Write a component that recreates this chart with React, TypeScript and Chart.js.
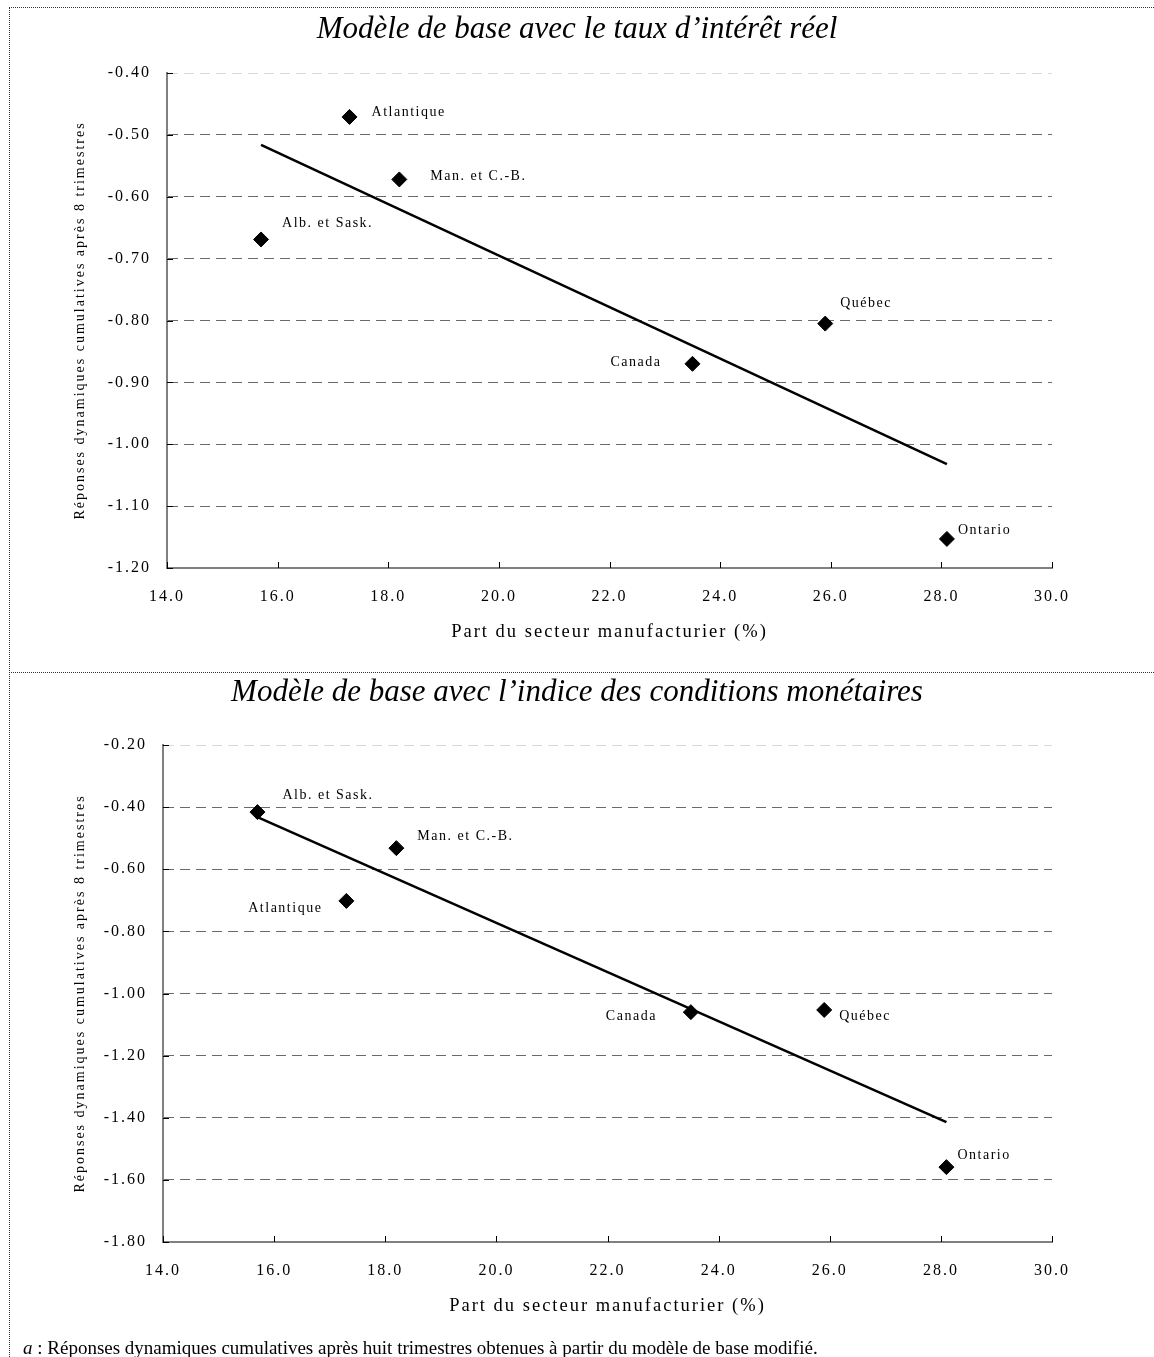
import React, { useEffect, useRef } from 'react';
import { Chart, registerables } from 'chart.js';

Chart.register(...registerables);

// ---------- data ----------
const regions = ['Atlantique', 'Man. et C.-B.', 'Alb. et Sask.', 'Canada', 'Québec', 'Ontario'];
const manufShare = [17.3, 18.2, 15.7, 23.5, 25.9, 28.1];
const realRateResponses = [-0.471, -0.572, -0.669, -0.87, -0.805, -1.153];
const mciResponses = [-0.702, -0.532, -0.416, -1.06, -1.053, -1.559];

const trendX = [15.7, 28.1];
const realRateTrend = [-0.516, -1.032];
const mciTrend = [-0.432, -1.414];

const xTicks = [14, 16, 18, 20, 22, 24, 26, 28, 30];
const realRateYTicks = [-1.2, -1.1, -1.0, -0.9, -0.8, -0.7, -0.6, -0.5, -0.4];
const mciYTicks = [-1.8, -1.6, -1.4, -1.2, -1.0, -0.8, -0.6, -0.4, -0.2];

const titleReal = 'Modèle de base avec le taux d\u2019intérêt réel';
const titleMci = 'Modèle de base avec l\u2019indice des conditions monétaires';
const xAxisTitle = 'Part du secteur manufacturier (%)';
const yAxisTitle = 'Réponses dynamiques cumulatives après 8 trimestres';

// label placement (pixel offsets from the marker; negative dx => right-aligned)
const realRateLabelOffsets = [[22, -5], [31, -3], [21, -16], [-31, -1], [15, -20], [11, -9]];
const mciLabelOffsets = [[-24, 7], [21, -12], [25, -17], [-34, 4], [15, 6], [11, -12]];

const SERIF = "'Liberation Serif', 'Times New Roman', Times, serif";

// ---------- plugins ----------
const spacingPlugin = {
  id: 'spacing',
  beforeDraw(chart: any) {
    (chart.ctx as any).letterSpacing = '2px';
  },
  afterDraw(chart: any) {
    (chart.ctx as any).letterSpacing = '0px';
  },
};

const insideTicksPlugin = {
  id: 'insideTicks',
  afterDatasetsDraw(chart: any) {
    const { ctx } = chart;
    const x = chart.scales.x;
    const y = chart.scales.y;
    ctx.save();
    ctx.setLineDash([]);
    ctx.strokeStyle = '#000';
    ctx.lineWidth = 1;
    x.ticks.forEach((t: any) => {
      const px = Math.round(x.getPixelForValue(t.value)) + 0.5;
      ctx.beginPath();
      ctx.moveTo(px, y.bottom);
      ctx.lineTo(px, y.bottom - 6);
      ctx.stroke();
    });
    y.ticks.forEach((t: any) => {
      const py = Math.round(y.getPixelForValue(t.value)) + 0.5;
      ctx.beginPath();
      ctx.moveTo(x.left, py);
      ctx.lineTo(x.left + 6, py);
      ctx.stroke();
    });
    ctx.restore();
  },
};

const pointLabelsPlugin = {
  id: 'pointLabels',
  afterDatasetsDraw(chart: any, _args: any, opts: any) {
    const meta = chart.getDatasetMeta(0);
    const ctx = chart.ctx;
    ctx.save();
    (ctx as any).letterSpacing = '1.5px';
    ctx.font = `14px ${SERIF}`;
    ctx.fillStyle = '#000';
    ctx.textBaseline = 'middle';
    meta.data.forEach((pt: any, i: number) => {
      const [dx, dy] = opts.offsets[i];
      ctx.textAlign = dx < 0 ? 'right' : 'left';
      ctx.fillText(opts.labels[i], pt.x + dx, pt.y + dy);
    });
    ctx.restore();
  },
};

type Params = {
  values: number[];
  trend: number[];
  yTicks: number[];
  offsets: number[][];
  yAxisWidth: number;
  xAxisHeight: number;
};

function buildConfig(p: Params): any {
  const yMin = Math.min(...p.yTicks);
  const yMax = Math.max(...p.yTicks);
  return {
    type: 'scatter',
    data: {
      datasets: [
        {
          type: 'scatter',
          data: manufShare.map((x, i) => ({ x, y: p.values[i] })),
          pointStyle: 'rectRot',
          pointRadius: 7.5,
          pointHoverRadius: 7.5,
          backgroundColor: '#000',
          borderColor: '#000',
          borderWidth: 1,
          order: 1,
        },
        {
          type: 'line',
          data: trendX.map((x, i) => ({ x, y: p.trend[i] })),
          borderColor: '#000',
          borderWidth: 2.5,
          pointRadius: 0,
          fill: false,
          tension: 0,
          order: 2,
        },
      ],
    },
    options: {
      responsive: false,
      animation: false,
      events: [],
      layout: { padding: { left: 68, right: 102, top: 73, bottom: 0 } },
      plugins: {
        legend: { display: false },
        tooltip: { enabled: false },
        title: { display: false },
        pointLabels: { labels: regions, offsets: p.offsets },
      },
      scales: {
        x: {
          type: 'linear',
          position: 'bottom',
          min: Math.min(...xTicks),
          max: Math.max(...xTicks),
          afterBuildTicks: (s: any) => {
            s.ticks = xTicks.map((v) => ({ value: v }));
          },
          afterFit: (s: any) => {
            s.height = p.xAxisHeight;
          },
          grid: { display: false, drawTicks: false },
          border: { display: true, color: '#808080', width: 2 },
          ticks: {
            padding: 19,
            color: '#000',
            font: { family: SERIF, size: 16 },
            maxRotation: 0,
            autoSkip: false,
            callback: (v: any) => Number(v).toFixed(1),
          },
          title: {
            display: true,
            text: xAxisTitle,
            color: '#000',
            font: { family: SERIF, size: 18.5 },
            padding: { top: 0, bottom: 29 },
          },
        },
        y: {
          type: 'linear',
          position: 'left',
          min: yMin,
          max: yMax,
          afterBuildTicks: (s: any) => {
            s.ticks = p.yTicks.map((v) => ({ value: v }));
          },
          afterFit: (s: any) => {
            s.width = p.yAxisWidth;
          },
          grid: {
            drawTicks: false,
            lineWidth: 1,
            borderDash: [10, 6],
            color: (c: any) => {
              const v = c.tick ? c.tick.value : null;
              if (v === yMax) return '#d9d9d9';
              if (v === yMin) return 'rgba(0,0,0,0)';
              return '#6a6a6a';
            },
          },
          border: { display: true, color: '#808080', width: 2, dash: [10, 6] },
          ticks: {
            padding: 16,
            color: '#000',
            font: { family: SERIF, size: 16 },
            autoSkip: false,
            callback: (v: any) => Number(v).toFixed(2),
          },
          title: {
            display: true,
            text: yAxisTitle,
            color: '#000',
            font: { family: SERIF, size: 14 },
            padding: { top: 4, bottom: 0 },
          },
        },
      },
    },
    plugins: [spacingPlugin, insideTicksPlugin, pointLabelsPlugin],
  };
}

export default function App() {
  const c1 = useRef<HTMLCanvasElement>(null);
  const c2 = useRef<HTMLCanvasElement>(null);

  useEffect(() => {
    const ch1 = new Chart(
      c1.current as HTMLCanvasElement,
      buildConfig({
        values: realRateResponses,
        trend: realRateTrend,
        yTicks: realRateYTicks,
        offsets: realRateLabelOffsets,
        yAxisWidth: 99,
        xAxisHeight: 104,
      })
    );
    const ch2 = new Chart(
      c2.current as HTMLCanvasElement,
      buildConfig({
        values: mciResponses,
        trend: mciTrend,
        yTicks: mciYTicks,
        offsets: mciLabelOffsets,
        yAxisWidth: 95,
        xAxisHeight: 104,
      })
    );
    return () => {
      ch1.destroy();
      ch2.destroy();
    };
  }, []);

  const titleStyle: React.CSSProperties = {
    position: 'absolute',
    left: 0,
    width: 1154,
    textAlign: 'center',
    fontFamily: SERIF,
    fontStyle: 'italic',
    fontSize: 31,
    lineHeight: '31px',
    whiteSpace: 'nowrap',
    color: '#000',
  };

  return (
    <div
      style={{
        position: 'absolute',
        left: 0,
        top: 0,
        width: 1154,
        height: 1357,
        overflow: 'hidden',
        background: '#fff',
      }}
    >
      <canvas ref={c1} width={1154} height={672} style={{ position: 'absolute', left: 0, top: 0 }} />
      <canvas ref={c2} width={1154} height={674} style={{ position: 'absolute', left: 0, top: 672 }} />
      <div style={{ ...titleStyle, top: 12 }}>{titleReal}</div>
      <div style={{ ...titleStyle, top: 675 }}>{titleMci}</div>
      <div
        style={{
          position: 'absolute',
          left: 23,
          top: 1338,
          fontFamily: SERIF,
          fontSize: 19,
          lineHeight: '19px',
          whiteSpace: 'nowrap',
          color: '#000',
        }}
      >
        <i>a</i> : Réponses dynamiques cumulatives après huit trimestres obtenues à partir du modèle de base modifié.
      </div>
      <div style={{ position: 'absolute', left: 9, top: 7, width: 1145, borderTop: '1px dotted #333' }} />
      <div style={{ position: 'absolute', left: 9, top: 7, height: 1350, borderLeft: '1px dotted #333' }} />
      <div style={{ position: 'absolute', left: 9, top: 672, width: 1145, borderTop: '1px dotted #333' }} />
    </div>
  );
}
